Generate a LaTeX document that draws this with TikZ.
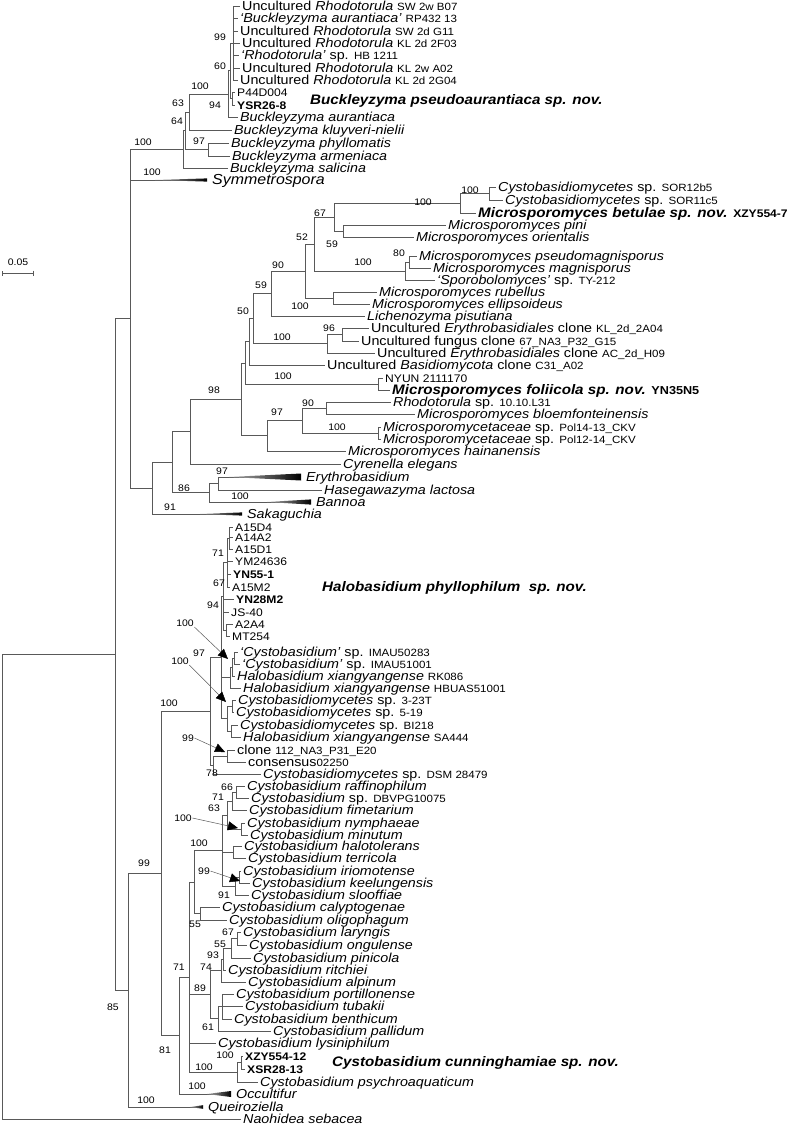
\documentclass[tikz,border=0pt]{standalone}
\usepackage{fontspec}
\setmainfont{Liberation Sans}[FakeStretch=1.1]
\usepackage{tikz}
\usetikzlibrary{arrows.meta,calc}

\newcommand{\strain}[1]{{\fontsize{10.5}{12}\selectfont #1}}
\newcommand{\collapse}[3]{\shade[left color=black!30,right color=black]
  ($(#1.west)+(-#2,0)$) -- ($(#1.west)+(0,-#3)$) -- ($(#1.west)+(0,#3)$) -- cycle;}

\begin{document}
\begin{tikzpicture}[x=1pt,y=-1pt,
  br/.style={draw=black!65,line width=0.7pt},
  leaf/.style={anchor=west,inner xsep=2pt,inner ysep=0pt,text height=10pt,text depth=1pt,
               font=\fontsize{13}{14}\selectfont},
  code/.style={leaf,text height=9pt,font=\fontsize{11}{12}\selectfont},
  clade/.style={leaf,inner xsep=5pt},
  bigsp/.style={font=\fontsize{13.8}{15}\selectfont\bfseries\itshape},
  newsp/.style={anchor=west,inner sep=0pt,text height=11pt,text depth=3pt,bigsp},
  boot/.style={inner sep=0.5pt,font=\fontsize{9.5}{10}\selectfont},
  callout/.style={draw=black!65,line width=0.5pt,-{Triangle[length=10pt,width=9pt,color=black]}}]
\useasboundingbox (0,0) rectangle (800,1125);

% ---- leaves: Buckleyzyma
\node[leaf] (u1) at (240,6)  {Uncultured \textit{Rhodotorula} \strain{SW 2w B07}};
\node[leaf] (u2) at (238,18) {\textit{‘Buckleyzyma aurantiaca’} \strain{RP432 13}};
\node[leaf] (u3) at (238,31) {Uncultured \textit{Rhodotorula} \strain{SW 2d G11}};
\node[leaf] (u4) at (240,43) {Uncultured \textit{Rhodotorula} \strain{KL 2d 2F03}};
\node[leaf] (u5) at (239,55) {\textit{‘Rhodotorula’} sp. \strain{HB 1211}};
\node[leaf] (u6) at (240,68) {Uncultured \textit{Rhodotorula} \strain{KL 2w A02}};
\node[leaf] (u7) at (238,80) {Uncultured \textit{Rhodotorula} \strain{KL 2d 2G04}};
\node[code] (p44) at (235,92)  {P44D004};
\node[code] (ysr) at (235,105) {\textbf{YSR26-8}};
\node[leaf] (baur) at (238,117) {\textit{Buckleyzyma aurantiaca}};
\node[leaf] (bklu) at (232,130) {\textit{Buckleyzyma kluyveri-nielii}};
\node[leaf] (bphy) at (229,143) {\textit{Buckleyzyma phyllomatis}};
\node[leaf] (barm) at (230,156) {\textit{Buckleyzyma armeniaca}};
\node[leaf] (bsal) at (228,168) {\textit{Buckleyzyma salicina}};
\node[clade,font=\fontsize{14.5}{16}\selectfont] (sym) at (207,180) {\textit{Symmetrospora}};

% ---- leaves: Microsporomyces and allies
\node[leaf] (sor12) at (496,187) {\textit{Cystobasidiomycetes} sp. \strain{SOR12b5}};
\node[leaf] (sor11) at (503,200) {\textit{Cystobasidiomycetes} sp. \strain{SOR11c5}};
\node[leaf,bigsp] (betu) at (476,213) {Microsporomyces betulae sp. nov. {\upshape\fontsize{11}{12}\selectfont XZY554-7}};
\node[leaf] (pini) at (446,225) {\textit{Microsporomyces pini}};
\node[leaf] (orie) at (414,237) {\textit{Microsporomyces orientalis}};
\node[leaf] (pseu) at (417,256) {\textit{Microsporomyces pseudomagnisporus}};
\node[leaf] (magn) at (431,268) {\textit{Microsporomyces magnisporus}};
\node[leaf] (spor) at (435,280) {\textit{‘Sporobolomyces’} sp. \strain{TY-212}};
\node[leaf] (rube) at (377,292) {\textit{Microsporomyces rubellus}};
\node[leaf] (elli) at (370,304) {\textit{Microsporomyces ellipsoideus}};
\node[leaf] (lich) at (365,316) {\textit{Lichenozyma pisutiana}};
\node[leaf] (kl2a) at (369,328) {Uncultured \textit{Erythrobasidiales} clone \strain{KL\_2d\_2A04}};
\node[leaf] (fung) at (359,341) {Uncultured fungus clone \strain{67\_NA3\_P32\_G15}};
\node[leaf] (h09)  at (375,353) {Uncultured \textit{Erythrobasidiales} clone \strain{AC\_2d\_H09}};
\node[leaf] (basi) at (325,365) {Uncultured \textit{Basidiomycota} clone \strain{C31\_A02}};
\node[code] (nyun) at (383,378) {NYUN 2111170};
\node[leaf,bigsp] (foli) at (390,390) {Microsporomyces foliicola sp. nov. {\upshape\fontsize{11.5}{12}\selectfont YN35N5}};
\node[leaf] (rhod) at (391,402) {\textit{Rhodotorula} sp. \strain{10.10.L31}};
\node[leaf] (bloe) at (415,414) {\textit{Microsporomyces bloemfonteinensis}};
\node[leaf] (pol14) at (381,427) {\textit{Microsporomycetaceae} sp. \strain{Pol14-13\_CKV}};
\node[leaf] (pol12) at (381,439) {\textit{Microsporomycetaceae} sp. \strain{Pol12-14\_CKV}};
\node[leaf] (hain) at (346,451) {\textit{Microsporomyces hainanensis}};
\node[leaf] (cyre) at (341,464) {\textit{Cyrenella elegans}};
\node[clade] (eryt) at (301,477) {\textit{Erythrobasidium}};
\node[leaf] (hase) at (322,490) {\textit{Hasegawazyma lactosa}};
\node[clade] (bann) at (311,502) {\textit{Bannoa}};
\node[clade] (saka) at (242,514) {\textit{Sakaguchia}};

% ---- leaves: Halobasidium
\node[code] (a15d4) at (233,527) {A15D4};
\node[code] (a14a2) at (233,537) {A14A2};
\node[code] (a15d1) at (233,549) {A15D1};
\node[code] (ym)    at (233,561) {YM24636};
\node[code] (yn55)  at (231,574) {\textbf{YN55-1}};
\node[code] (a15m2) at (230,587) {A15M2};
\node[code] (yn28)  at (234,599) {\textbf{YN28M2}};
\node[code] (js40)  at (229,612) {JS-40};
\node[code] (a2a4)  at (233,624) {A2A4};
\node[code] (mt254) at (230,636) {MT254};
\node[leaf] (imau50) at (238,652) {\textit{‘Cystobasidium’} sp. \strain{IMAU50283}};
\node[leaf] (imau51) at (240,664) {\textit{‘Cystobasidium’} sp. \strain{IMAU51001}};
\node[leaf] (rk086)  at (235,676) {\textit{Halobasidium xiangyangense} \strain{RK086}};
\node[leaf] (hbuas)  at (241,688) {\textit{Halobasidium xiangyangense} \strain{HBUAS51001}};
\node[leaf] (c323)   at (236,700) {\textit{Cystobasidiomycetes} sp. \strain{3-23T}};
\node[leaf] (c519)   at (234,712) {\textit{Cystobasidiomycetes} sp. \strain{5-19}};
\node[leaf] (bi218)  at (238,725) {\textit{Cystobasidiomycetes} sp. \strain{BI218}};
\node[leaf] (sa444)  at (241,737) {\textit{Halobasidium xiangyangense} \strain{SA444}};
\node[leaf] (clone)  at (235,750) {clone \strain{112\_NA3\_P31\_E20}};
\node[leaf] (cons)   at (246,762) {consensus\strain{02250}};
\node[leaf] (dsm)    at (261,774) {\textit{Cystobasidiomycetes} sp. \strain{DSM 28479}};

% ---- leaves: Cystobasidium
\node[leaf] (raff) at (245,786) {\textit{Cystobasidium raffinophilum}};
\node[leaf] (dbv)  at (249,798) {\textit{Cystobasidium} sp. \strain{DBVPG10075}};
\node[leaf] (fime) at (247,810) {\textit{Cystobasidium fimetarium}};
\node[leaf] (nymp) at (245,823) {\textit{Cystobasidium nymphaeae}};
\node[leaf] (minu) at (248,835) {\textit{Cystobasidium minutum}};
\node[leaf] (halo) at (242,846) {\textit{Cystobasidium halotolerans}};
\node[leaf] (terr) at (246,858) {\textit{Cystobasidium terricola}};
\node[leaf] (irio) at (241,871) {\textit{Cystobasidium iriomotense}};
\node[leaf] (keel) at (250,883) {\textit{Cystobasidium keelungensis}};
\node[leaf] (sloo) at (249,895) {\textit{Cystobasidium slooffiae}};
\node[leaf] (caly) at (220,907) {\textit{Cystobasidium calyptogenae}};
\node[leaf] (olig) at (227,920) {\textit{Cystobasidium oligophagum}};
\node[leaf] (lary) at (241,932) {\textit{Cystobasidium laryngis}};
\node[leaf] (ongu) at (247,945) {\textit{Cystobasidium ongulense}};
\node[leaf] (pinc) at (251,958) {\textit{Cystobasidium pinicola}};
\node[leaf] (ritc) at (226,970) {\textit{Cystobasidium ritchiei}};
\node[leaf] (alpi) at (246,982) {\textit{Cystobasidium alpinum}};
\node[leaf] (port) at (234,994) {\textit{Cystobasidium portillonense}};
\node[leaf] (tuba) at (243,1006) {\textit{Cystobasidium tubakii}};
\node[leaf] (bent) at (232,1019) {\textit{Cystobasidium benthicum}};
\node[leaf] (pall) at (271,1031) {\textit{Cystobasidium pallidum}};
\node[leaf] (lysi) at (216,1043) {\textit{Cystobasidium lysiniphilum}};
\node[code] (xzy)  at (243,1056) {\textbf{XZY554-12}};
\node[code] (xsr)  at (245,1069) {\textbf{XSR28-13}};
\node[leaf] (psyc) at (258,1082) {\textit{Cystobasidium psychroaquaticum}};
\node[clade] (occu) at (231,1094) {\textit{Occultifur}};
\node[clade] (quei) at (203,1107) {\textit{Queiroziella}};
\node[leaf] (naoh) at (241,1119) {\textit{Naohidea sebacea}};

% ---- new species
\node[newsp] (bpsp) at (310,100)  {Buckleyzyma pseudoaurantiaca sp. nov.};
\node[newsp] (hpsp) at (322,587)  {Halobasidium phyllophilum\ \ sp. nov.};
\node[newsp] (ccsp) at (332,1062) {Cystobasidium cunninghamiae sp. nov.};

% ---- internal nodes
\coordinate (nA) at (233,43);    \coordinate (nB) at (232,98.5);
\coordinate (nC) at (230,70.8);  \coordinate (nD) at (228,94);
\coordinate (nE) at (189,112);   \coordinate (nP) at (208,149.5);
\coordinate (nG) at (185,130.8); \coordinate (nF) at (183,149.4);
\coordinate (nS) at (130,318.7);
\coordinate (mSor) at (489,193.5); \coordinate (mBet) at (460,203.3);
\coordinate (mPin) at (343,231);   \coordinate (m67) at (334,217);
\coordinate (m80) at (409,262);    \coordinate (mMag) at (405,271);
\coordinate (m52) at (314,244);    \coordinate (mRub) at (333,298);
\coordinate (m90) at (305,271);    \coordinate (m59) at (271,293.5);
\coordinate (m96) at (342,334.5);  \coordinate (mEry) at (327,343.8);
\coordinate (m50) at (253,318.6);  \coordinate (mBas) at (249,341.8);
\coordinate (mFol) at (378,384);   \coordinate (mNy) at (245,362.9);
\coordinate (mRho) at (326,408);   \coordinate (mPol) at (378,433);
\coordinate (m97) at (302,420.5);  \coordinate (mHai) at (267,435.8);
\coordinate (m98) at (241,399.3);  \coordinate (mCyr) at (190,431.6);
\coordinate (eEry) at (218,483.5); \coordinate (e86) at (209,492.8);
\coordinate (eTop) at (172,462.2); \coordinate (e91) at (152,488.1);
\coordinate (h71) at (229,538);    \coordinate (h67) at (227,562.5);
\coordinate (hMT) at (226,630);    \coordinate (h94) at (223,596);
\coordinate (g1) at (234,658);     \coordinate (g2) at (232,667);
\coordinate (g3) at (230,677.5);   \coordinate (g4) at (232,706);
\coordinate (g5) at (231,731);     \coordinate (g6) at (227,718.5);
\coordinate (h97) at (221,657);    \coordinate (hCl) at (227,756);
\coordinate (h78) at (213,765);    \coordinate (h100) at (210,711);
\coordinate (c66) at (236,792);    \coordinate (c71) at (232,801);
\coordinate (cNM) at (241,829);    \coordinate (c63) at (227,815);
\coordinate (cHT) at (233,852);    \coordinate (cIK) at (239,877);
\coordinate (c91) at (235,886);    \coordinate (c100) at (222,850.5);
\coordinate (c55a) at (200,913.5); \coordinate (cTop) at (194,882);
\coordinate (c67) at (237,938.5);  \coordinate (c55b) at (231,948);
\coordinate (c93) at (223,959);    \coordinate (c74) at (221,970.5);
\coordinate (cPT) at (222,1006.5); \coordinate (c61) at (218,1018.8);
\coordinate (c89) at (210,994.6);  \coordinate (cXX) at (241,1062.5);
\coordinate (cPsy) at (237,1072);  \coordinate (c71b) at (189,977);
\coordinate (c81) at (179,1035.5); \coordinate (c99) at (161,873.3);
\coordinate (cQ) at (128,990);     \coordinate (cR) at (115,654.4);
\coordinate (root) at (2,886.7);

% ---- branches
\draw[br] (nA) |- (u1.west) (nA) |- (u2.west) (nA) |- (u3.west) (nA) |- (u4.west)
          (nA) |- (u5.west) (nA) |- (u6.west) (nA) |- (u7.west);
\draw[br] (nB) |- (p44.west) (nB) |- (ysr.west);
\draw[br] (nC) |- (nA) (nC) |- (nB);
\draw[br] (nD) |- (nC) (nD) |- (baur.west);
\draw[br] (nE) |- (nD) (nE) |- (bklu.west);
\draw[br] (nP) |- (bphy.west) (nP) |- (barm.west);
\draw[br] (nG) |- (nE) (nG) |- (nP);
\draw[br] (nF) |- (nG) (nF) |- (bsal.west);
\draw[br] (nS) |- (nF) (nS) |- (sym.west) (nS) |- (e91);
\draw[br] (mSor) |- (sor12.west) (mSor) |- (sor11.west);
\draw[br] (mBet) |- (mSor) (mBet) |- (betu.west);
\draw[br] (mPin) |- (pini.west) (mPin) |- (orie.west);
\draw[br] (m67) |- (mBet) (m67) |- (mPin);
\draw[br] (m80) |- (pseu.west) (m80) |- (magn.west);
\draw[br] (mMag) |- (m80) (mMag) |- (spor.west);
\draw[br] (m52) |- (m67) (m52) |- (mMag);
\draw[br] (mRub) |- (rube.west) (mRub) |- (elli.west);
\draw[br] (m90) |- (m52) (m90) |- (mRub);
\draw[br] (m59) |- (m90) (m59) |- (lich.west);
\draw[br] (m96) |- (kl2a.west) (m96) |- (fung.west);
\draw[br] (mEry) |- (m96) (mEry) |- (h09.west);
\draw[br] (m50) |- (m59) (m50) |- (mEry);
\draw[br] (mBas) |- (m50) (mBas) |- (basi.west);
\draw[br] (mFol) |- (nyun.west) (mFol) |- (foli.west);
\draw[br] (mNy) |- (mBas) (mNy) |- (mFol);
\draw[br] (mRho) |- (rhod.west) (mRho) |- (bloe.west);
\draw[br] (mPol) |- (pol14.west) (mPol) |- (pol12.west);
\draw[br] (m97) |- (mRho) (m97) |- (mPol);
\draw[br] (mHai) |- (m97) (mHai) |- (hain.west);
\draw[br] (m98) |- (mNy) (m98) |- (mHai);
\draw[br] (mCyr) |- (m98) (mCyr) |- (cyre.west);
\draw[br] (eEry) |- (eryt.west) (eEry) |- (hase.west);
\draw[br] (e86) |- (eEry) (e86) |- (bann.west);
\draw[br] (eTop) |- (mCyr) (eTop) |- (e86);
\draw[br] (e91) |- (eTop) (e91) |- (saka.west);
\draw[br] (h71) |- (a15d4.west) (h71) |- (a14a2.west) (h71) |- (a15d1.west);
\draw[br] (h67) |- (h71) (h67) |- (ym.west) (h67) |- (yn55.west) (h67) |- (a15m2.west);
\draw[br] (hMT) |- (a2a4.west) (hMT) |- (mt254.west);
\draw[br] (h94) |- (h67) (h94) |- (yn28.west) (h94) |- (js40.west) (h94) |- (hMT);
\draw[br] (g1) |- (imau50.west) (g1) |- (imau51.west);
\draw[br] (g2) |- (g1) (g2) |- (rk086.west);
\draw[br] (g3) |- (g2) (g3) |- (hbuas.west);
\draw[br] (g4) |- (c323.west) (g4) |- (c519.west);
\draw[br] (g5) |- (bi218.west) (g5) |- (sa444.west);
\draw[br] (g6) |- (g4) (g6) |- (g5);
\draw[br] (h97) |- (h94) (h97) |- (g3) (h97) |- (g6);
\draw[br] (hCl) |- (clone.west) (hCl) |- (cons.west);
\draw[br] (h78) |- (hCl) (h78) |- (dsm.west);
\draw[br] (h100) |- (h97) (h100) |- (h78);
\draw[br] (c66) |- (raff.west) (c66) |- (dbv.west);
\draw[br] (c71) |- (c66) (c71) |- (fime.west);
\draw[br] (cNM) |- (nymp.west) (cNM) |- (minu.west);
\draw[br] (c63) |- (c71) (c63) |- (cNM);
\draw[br] (cHT) |- (halo.west) (cHT) |- (terr.west);
\draw[br] (cIK) |- (irio.west) (cIK) |- (keel.west);
\draw[br] (c91) |- (cIK) (c91) |- (sloo.west);
\draw[br] (c100) |- (c63) (c100) |- (cHT) (c100) |- (c91);
\draw[br] (c55a) |- (caly.west) (c55a) |- (olig.west);
\draw[br] (cTop) |- (c100) (cTop) |- (c55a);
\draw[br] (c67) |- (lary.west) (c67) |- (ongu.west);
\draw[br] (c55b) |- (c67) (c55b) |- (pinc.west);
\draw[br] (c93) |- (c55b) (c93) |- (ritc.west);
\draw[br] (c74) |- (c93) (c74) |- (alpi.west);
\draw[br] (cPT) |- (port.west) (cPT) |- (tuba.west) (cPT) |- (bent.west);
\draw[br] (c61) |- (cPT) (c61) |- (pall.west);
\draw[br] (c89) |- (c74) (c89) |- (c61);
\draw[br] (cXX) |- (xzy.west) (cXX) |- (xsr.west);
\draw[br] (cPsy) |- (cXX) (cPsy) |- (psyc.west);
\draw[br] (c71b) |- (cTop) (c71b) |- (c89) (c71b) |- (lysi.west) (c71b) |- (cPsy);
\draw[br] (c81) |- (c71b) (c81) |- (occu.west);
\draw[br] (c99) |- (h100) (c99) |- (c81);
\draw[br] (cQ) |- (c99) (cQ) |- (quei.west);
\draw[br] (cR) |- (nS) (cR) |- (cQ);
\draw[br] (root) |- (cR) (root) |- (naoh.west);

% collapsed clades
\collapse{sym}{52}{1.6}
\collapse{eryt}{72}{3.5}
\collapse{bann}{44}{2.6}
\collapse{saka}{42}{1.6}
\collapse{occu}{24}{3}
\collapse{quei}{13}{1.8}

% ---- bootstrap values
\node[boot] (b1) at (220,37) {99};   \node[boot] (b2) at (220,66) {60};
\node[boot] (b3) at (200,86) {100};  \node[boot] (b4) at (215,105) {94};
\node[boot] (b5) at (178,103) {63};  \node[boot] (b6) at (177,121) {64};
\node[boot] (b7) at (199,141) {97};  \node[boot] (b8) at (143,142) {100};
\node[boot] (b9) at (152,172) {100};
\node[boot] (b10) at (470,190) {100}; \node[boot] (b11) at (423,202) {100};
\node[boot] (b12) at (320,213) {67};  \node[boot] (b13) at (332,244) {59};
\node[boot] (b14) at (302,237) {52};  \node[boot] (b15) at (399,253) {80};
\node[boot] (b16) at (363,262) {100}; \node[boot] (b17) at (278,265) {90};
\node[boot] (b18) at (300,306) {100}; \node[boot] (b19) at (261,285) {59};
\node[boot] (b20) at (243,311) {50};  \node[boot] (b21) at (329,328) {96};
\node[boot] (b22) at (282,337) {100}; \node[boot] (b23) at (283,376) {100};
\node[boot] (b24) at (214,390) {98};  \node[boot] (b25) at (308,403) {90};
\node[boot] (b26) at (277,412) {97};  \node[boot] (b27) at (337,427) {100};
\node[boot] (b28) at (222,471) {97};  \node[boot] (b29) at (184,488) {86};
\node[boot] (b30) at (240,496) {100}; \node[boot] (b31) at (170,507) {91};
\node[boot] (b32) at (218,553) {71};  \node[boot] (b33) at (219,583) {67};
\node[boot] (b34) at (213,605) {94};  \node[boot] (b35) at (199,653) {97};
\node[boot] (b36) at (185,623) {100}; \node[boot] (b37) at (180,661) {100};
\node[boot] (b38) at (188,738) {99};  \node[boot] (b39) at (212,773) {78};
\node[boot] (b40) at (169,703) {100}; \node[boot] (b41) at (227,787) {66};
\node[boot] (b42) at (218,797) {71};  \node[boot] (b43) at (214,808) {63};
\node[boot] (b44) at (183,818) {100}; \node[boot] (b45) at (199,843) {100};
\node[boot] (b46) at (204,871) {99};  \node[boot] (b47) at (224,895) {91};
\node[boot] (b48) at (144,863) {99};  \node[boot] (b49) at (195,924) {55};
\node[boot] (b50) at (228,932) {67};  \node[boot] (b51) at (220,944) {55};
\node[boot] (b52) at (213,955) {93};  \node[boot] (b53) at (206,967) {74};
\node[boot] (b54) at (179,967) {71};  \node[boot] (b55) at (200,988) {89};
\node[boot] (b56) at (208,1027) {61}; \node[boot] (b57) at (204,1067) {100};
\node[boot] (b58) at (225,1055) {100}; \node[boot] (b59) at (165,1050) {81};
\node[boot] (b60) at (197,1086) {100}; \node[boot] (b61) at (146,1100) {100};
\node[boot] (b62) at (113,1007) {85};

% pointers to short internodes
\coordinate (t1) at (228,659);
\coordinate (t2) at (226,702);
\coordinate (t3) at (225,752);
\coordinate (t4) at (238,828);
\coordinate (t5) at (240,881);
\draw[callout] (b36.south east) -- (t1);
\draw[callout] (b37.south east) -- (t2);
\draw[callout] (b38.east) -- (t3);
\draw[callout] (b44.east) -- (t4);
\draw[callout] (b46.east) -- (t5);

% scale bar
\coordinate (sb1) at (2,273);
\coordinate (sb2) at (34,273);
\draw[br,{Bar[width=5pt]}-{Bar[width=5pt]}] (sb1) -- (sb2);
\node[boot] (sbl) at (18,262) {0.05};
\end{tikzpicture}
\end{document}
